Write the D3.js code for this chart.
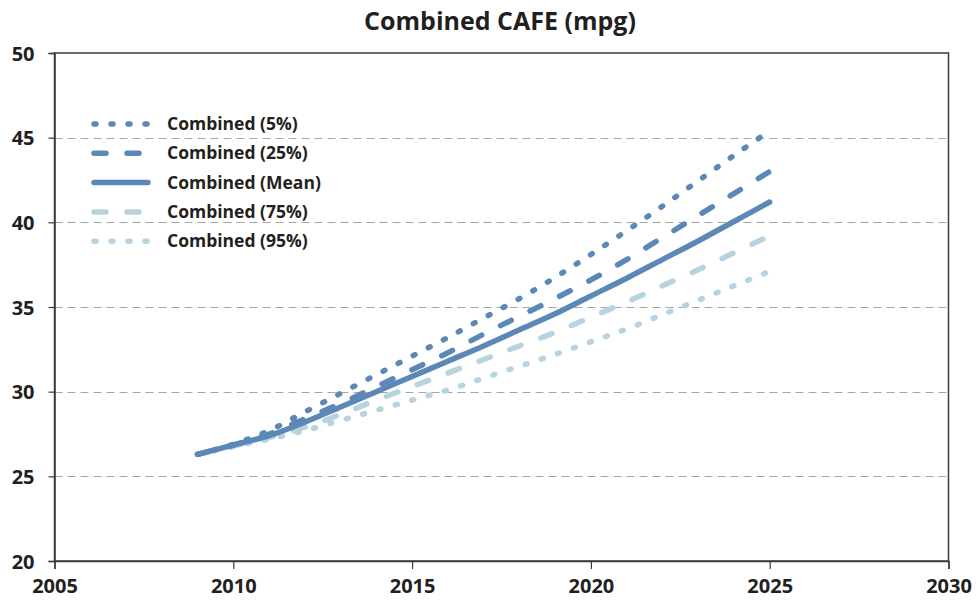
<!DOCTYPE html>
<html><head><meta charset="utf-8">
<script src="https://cdn.jsdelivr.net/npm/d3@7"></script>
<style>
html,body{margin:0;padding:0;background:#fff;}
text{font-family:"Open Sans",sans-serif;font-weight:700;fill:#231f20;}
</style></head>
<body>
<svg id="chart" width="976" height="607"></svg>
<script>
const title = "Combined CAFE (mpg)";
const years = [2009,2010,2011,2012,2013,2014,2015,2016,2017,2018,2019,2020,2021,2022,2023,2024,2025];
const p5   = [26.3,26.9,27.7,28.8,29.9,31.0,32.1,33.2,34.35,35.5,36.75,38.1,39.5,40.95,42.45,43.95,45.4];
const p25  = [26.3,26.85,27.5,28.4,29.3,30.3,31.3,32.3,33.4,34.45,35.5,36.6,37.8,39.1,40.4,41.7,43.0];
const mean = [26.3,26.85,27.4,28.2,29.1,30.0,30.9,31.8,32.7,33.65,34.6,35.65,36.7,37.8,38.9,40.05,41.2];
const p75  = [26.3,26.8,27.3,27.9,28.65,29.5,30.3,31.1,31.9,32.7,33.5,34.4,35.3,36.25,37.2,38.2,39.2];
const p95  = [26.3,26.75,27.2,27.7,28.3,28.9,29.5,30.1,30.8,31.5,32.2,32.95,33.7,34.55,35.4,36.25,37.1];
const seriesNames = ["Combined (5%)","Combined (25%)","Combined (Mean)","Combined (75%)","Combined (95%)"];
const xTicks = [2005,2010,2015,2020,2025,2030];
const yTicks = [20,25,30,35,40,45,50];

const dark = "#5b88b6", light = "#b9d2df";
const styles = [
  {color:dark, dash:"2 15"},
  {color:dark, dash:"12 21"},
  {color:dark, dash:null},
  {color:light, dash:"12 21"},
  {color:light, dash:"2 15"}
];
const seriesVals = [p5,p25,mean,p75,p95];

const svg = d3.select("#chart");
const L=54.5, R=948.5, T=53, B=561;
const x = d3.scaleLinear().domain([2005,2030]).range([L,R]);
const y = d3.scaleLinear().domain([20,50]).range([B,T]);

// title
svg.append("text").attr("x",500).attr("y",30).attr("text-anchor","middle")
  .style("font-size","25px").text(title);

// grid
svg.append("g").selectAll("line").data(yTicks.filter(v=>v>20&&v<50)).join("line")
  .attr("x1",L).attr("x2",R).attr("y1",d=>Math.round(y(d))+0.5).attr("y2",d=>Math.round(y(d))+0.5)
  .attr("stroke","#a6a6a6").attr("stroke-width",1).attr("stroke-dasharray","8 5");

// frame
svg.append("rect").attr("x",L).attr("y",T).attr("width",R-L).attr("height",B-T)
  .attr("fill","none").attr("stroke","#3a3a3a").attr("stroke-width",1.5);

// axes
const yAxis = d3.axisLeft(y).tickValues(yTicks).tickSize(6).tickPadding(14).tickFormat(d3.format("d"));
const gy = svg.append("g").attr("transform",`translate(${L},0)`).call(yAxis);
const xAxis = d3.axisBottom(x).tickValues(xTicks).tickSize(8).tickPadding(10).tickFormat(d3.format("d"));
const gx = svg.append("g").attr("transform",`translate(0,${B})`).call(xAxis);
[gy,gx].forEach(g=>{
  g.select(".domain").attr("stroke","#3a3a3a").attr("stroke-width",1.5);
  g.selectAll(".tick line").attr("stroke","#3a3a3a").attr("stroke-width",1.2);
  g.selectAll(".tick text").style("font-size","20px").style("font-family","'Open Sans',sans-serif").style("font-weight","700").attr("fill","#231f20");
});
gy.selectAll(".tick text").attr("dy","0.35em");

// lines
const line = d3.line().x((d,i)=>x(years[i])).y(d=>y(d)).curve(d3.curveCatmullRom);
const order = [4,3,2,1,0];
order.forEach(i=>{
  svg.append("path").datum(seriesVals[i]).attr("d",line)
    .attr("fill","none").attr("stroke",styles[i].color).attr("stroke-width",i===2?5.5:5.5)
    .attr("stroke-linecap","round").attr("stroke-linejoin","round")
    .attr("stroke-dasharray",styles[i].dash);
});

// legend
const lg = svg.append("g");
seriesNames.forEach((n,i)=>{
  const yy = 124 + i*29.3;
  lg.append("line").attr("x1",94).attr("x2",148).attr("y1",yy).attr("y2",yy)
    .attr("stroke",styles[i].color).attr("stroke-width",5.5).attr("stroke-linecap","round")
    .attr("stroke-dasharray",styles[i].dash);
  lg.append("text").attr("x",167).attr("y",yy).attr("dy","0.35em").style("font-size","17.5px").text(n);
});
</script>
</body></html>
